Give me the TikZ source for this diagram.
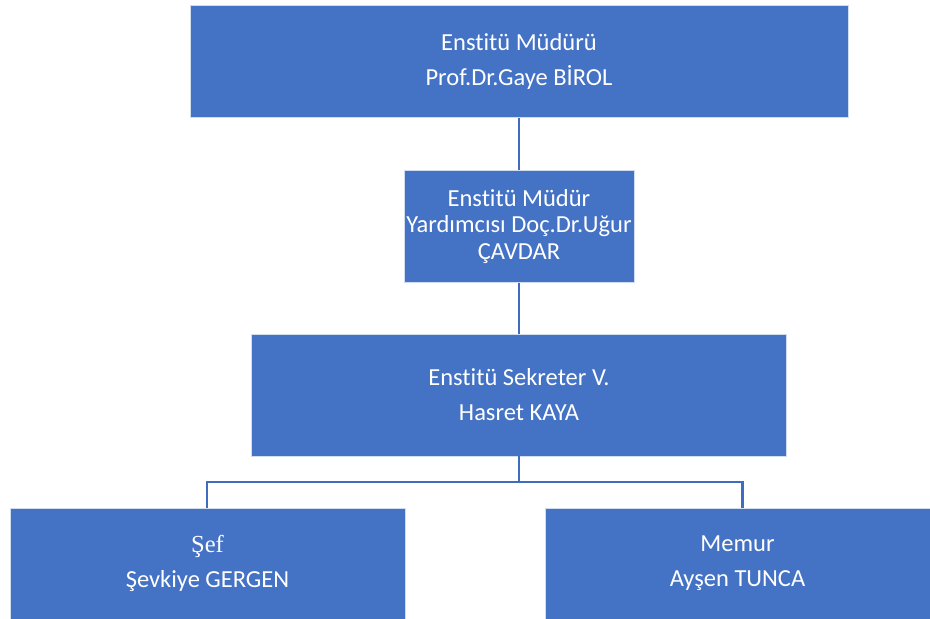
\documentclass[tikz,border=0pt]{standalone}
\usepackage{fontspec}
\setmainfont{Carlito}[Ligatures=NoCommon]
\newfontfamily\serifface{Liberation Serif}
\definecolor{boxblue}{HTML}{4472C4}
\definecolor{lineblue}{HTML}{3F6CBE}
\tikzset{
  orgbox/.style={fill=boxblue, draw=white!75!boxblue, line width=0.6pt, text=white, align=center, inner sep=0pt,
    font=\fontsize{24.5}{35}\selectfont},
  link/.style={draw=lineblue, line width=2.4pt}
}
\begin{document}
\begin{tikzpicture}[x=1pt,y=-1pt]
\useasboundingbox (0,0) rectangle (930,619);
\node[orgbox, minimum width=658pt, minimum height=112pt] (b1) at (519,61.5) {Enstitü Müdürü\\Prof.Dr.Gaye BİROL};
\node[orgbox, minimum width=230pt, minimum height=112pt, font=\fontsize{24.5}{26.5}\selectfont] (b2) at (519,226.5) {Enstitü Müdür\\Yardımcısı Doç.Dr.Uğur\\ÇAVDAR};
\node[orgbox, minimum width=535pt, minimum height=122pt] (b3) at (519,395) {Enstitü Sekreter V.\\Hasret KAYA};
\node[orgbox, minimum width=395pt, minimum height=111pt] (b4) at (207.5,563.5) {{\serifface Şef}\\Şevkiye GERGEN};
\node[orgbox, minimum width=385pt, minimum height=111pt] (b5) at (737.5,563.5) {Memur\\Ayşen TUNCA};
\coordinate (j) at (519,482);
\draw[link] (b1.south) -- (b2.north);
\draw[link] (b2.south) -- (b3.north);
\draw[link] (b3.south) -- (j);
\draw[link] (j) -| ([xshift=-0.5pt]b4.north);
\draw[link] (j) -| ([xshift=5pt]b5.north);
\end{tikzpicture}
\end{document}
